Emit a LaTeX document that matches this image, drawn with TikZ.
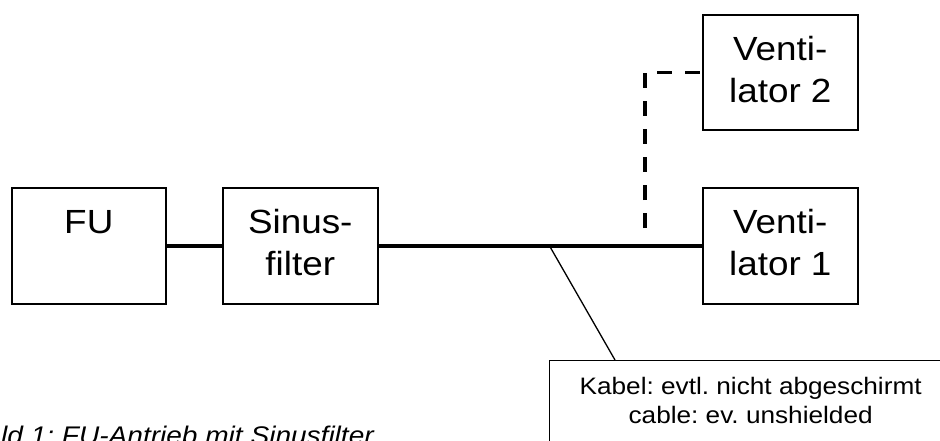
\documentclass[tikz,border=0pt]{standalone}
\usepackage{fontspec}
\setmainfont{Liberation Sans}[FakeStretch=1.1]
\frenchspacing
\begin{document}
\begin{tikzpicture}[x=1pt,y=-1pt,
  box/.style={draw, line width=1.6pt, minimum width=155pt, minimum height=116pt,
    inner sep=0pt, align=center, anchor=north west,
    font=\fontsize{33.5}{42}\selectfont},
  wire/.style={line width=4pt},
  dwire/.style={line width=3.5pt, dash pattern=on 15pt off 13pt},
  callout/.style={draw, line width=1.3pt, minimum width=402pt, inner xsep=0pt,
    inner ysep=16.6pt, align=center, anchor=north west,
    font=\fontsize{23.8}{29}\selectfont},
  pointer/.style={line width=1.3pt},
  caption/.style={anchor=base west, inner sep=0pt,
    font=\fontsize{25.5}{30}\selectfont\itshape}]
\clip (0,0) rectangle (940,441);
\node[box, minimum width=154pt] (fu) at (11,187) {FU\\\phantom{filter}\rule[-6pt]{0pt}{0pt}};
\node[box] (sf) at (222,187) {Sinus-\\filter\rule[-6pt]{0pt}{0pt}};
\node[box] (v1) at (702,187) {Venti-\\lator 1\rule[-6pt]{0pt}{0pt}};
\node[box, minimum height=115pt] (v2) at (702,14) {Venti-\\lator 2\rule[-6pt]{0pt}{0pt}};
\draw[wire] (fu.east) -- (sf.west);
\draw[wire] (sf.east) -- (v1.west);
\coordinate (tap) at (645,228);
\draw[dwire] (tap) |- (v2.west);
\coordinate (kj) at (549,245);
\coordinate (ktip) at (615,360);
\node[callout] (kb) at (549,360) {Kabel: evtl. nicht abgeschirmt\\cable: ev. unshielded\rule[-25pt]{0pt}{0pt}};
\draw[pointer] (kj) -- (ktip);
\node[caption] (cap) at (1,444) {ld 1: FU-Antrieb mit Sinusfilter};
\end{tikzpicture}
\end{document}
